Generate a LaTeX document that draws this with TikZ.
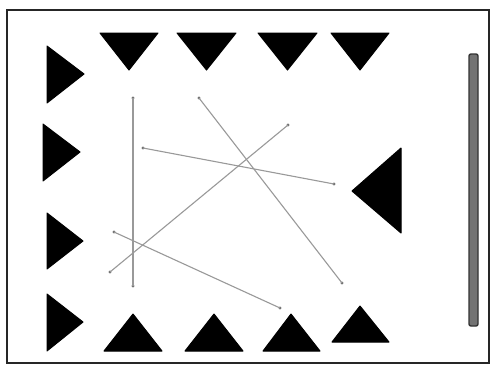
\documentclass[tikz,border=0pt]{standalone}
\begin{document}
\begin{tikzpicture}[x=1pt,y=-1pt,
  tri/.style={fill=black,draw=black,line width=1pt,line join=round},
  link/.style={draw=black!40,line width=1.1pt},
  enddot/.style={circle,fill=black!55,inner sep=0pt,minimum size=3.2pt}]
\useasboundingbox (0,0) rectangle (491,365);
\fill[white] (0,0) rectangle (491,365);
\draw[line width=2.6pt,black!85] (7,10) rectangle (489,363);
% top row (pointing down)
\foreach \a/\b in {100/158,177/236,258/317,331/389}{
  \draw[tri] (\a,33) -- (\b,33) -- ({(\a+\b)/2},70) -- cycle;}
% left column (pointing right)
\draw[tri] (47,46) -- (84,74) -- (47,103) -- cycle;
\draw[tri] (43,124) -- (80,152) -- (43,181) -- cycle;
\draw[tri] (47,213) -- (83,241) -- (47,269) -- cycle;
\draw[tri] (47,294) -- (83,322) -- (47,351) -- cycle;
% bottom row (pointing up)
\draw[tri] (104,351) -- (162,351) -- (133,314) -- cycle;
\draw[tri] (185,351) -- (243,351) -- (214,314) -- cycle;
\draw[tri] (263,351) -- (320,351) -- (291,314) -- cycle;
\draw[tri] (332,342) -- (389,342) -- (360,306) -- cycle;
% big triangle (pointing left)
\draw[tri] (352,191) -- (401,148) -- (401,233) -- cycle;
% bar
\draw[fill=black!55,draw=black!80,line width=1.4pt,rounded corners=2pt] (469,54) rectangle (478,326);
% link end points
\node[enddot] (a1) at (133,98) {};
\node[enddot] (a2) at (133,286) {};
\node[enddot] (b1) at (199,98) {};
\node[enddot] (b2) at (342,283) {};
\node[enddot] (c1) at (143,148) {};
\node[enddot] (c2) at (334,184) {};
\node[enddot] (d1) at (288,125) {};
\node[enddot] (d2) at (110,272) {};
\node[enddot] (e1) at (114,232) {};
\node[enddot] (e2) at (280,308) {};
\draw[link] (a1.center) -- (a2.center);
\draw[link] (b1.center) -- (b2.center);
\draw[link] (c1.center) -- (c2.center);
\draw[link] (d1.center) -- (d2.center);
\draw[link] (e1.center) -- (e2.center);
\end{tikzpicture}
\end{document}
